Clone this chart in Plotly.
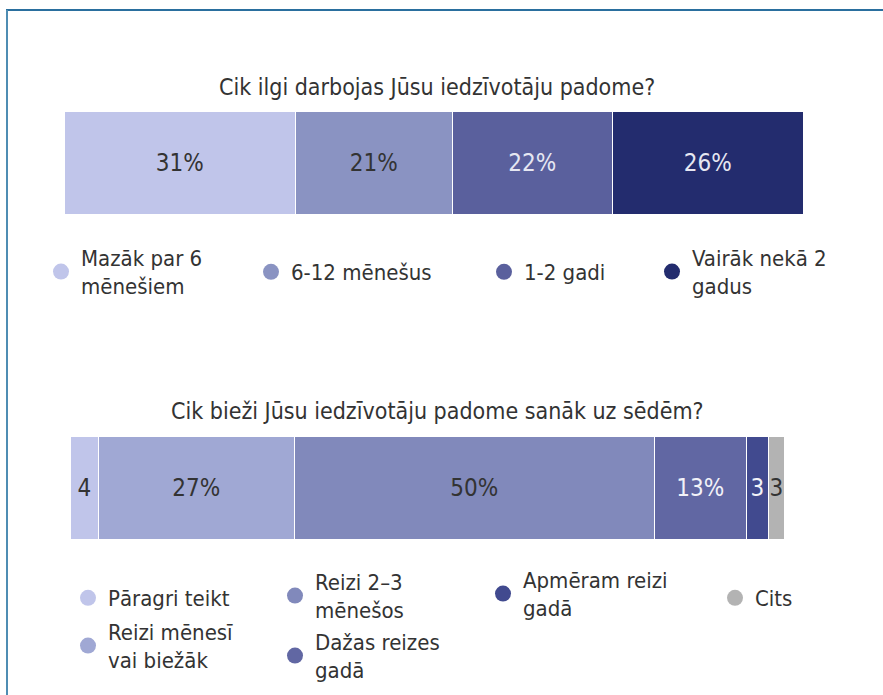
import plotly.graph_objects as go

W, H = 883, 695

# ---- data ----
duration_title = "Cik ilgi darbojas Jūsu iedzīvotāju padome?"
duration_labels = ["Mazāk par 6<br>mēnešiem", "6-12 mēnešus", "1-2 gadi", "Vairāk nekā 2<br>gadus"]
duration_values = [31.3, 21.2, 21.7, 25.8]
duration_text = ["31%", "21%", "22%", "26%"]

frequency_title = "Cik bieži Jūsu iedzīvotāju padome sanāk uz sēdēm?"
frequency_labels = ["Pāragri teikt", "Reizi mēnesī<br>vai biežāk", "Reizi 2–3<br>mēnešos",
                    "Dažas reizes<br>gadā", "Apmēram reizi<br>gadā", "Cits"]
frequency_values = [3.9, 27.5, 50.4, 12.9, 3.0, 2.3]
frequency_text = ["4", "27%", "50%", "13%", "3", "3"]

# ---- styles ----
FONT = "DejaVu Sans Condensed, DejaVu Sans, sans-serif"
TXT = "#333333"
duration_colors = ["#c0c5ea", "#8a93c2", "#5a609d", "#232c6e"]
duration_textcolors = [TXT, TXT, "#e6e7f2", "#e6e7f2"]
frequency_colors = ["#c0c5ea", "#a0a8d4", "#8189bb", "#6167a3", "#414a8f", "#b3b3b3"]
frequency_textcolors = [TXT, TXT, TXT, "#f2f2f8", "#f2f2f8", TXT]

# legend item positions (marker centre x, item centre y) in pixels
duration_leg_pos = [(61, 272), (271, 272), (504, 272), (672, 272)]
frequency_leg_pos = [(88, 598), (88, 646), (295, 596), (295, 656), (503, 594), (735, 598)]

def px(x):
    return x / W

def py(y):
    return (H - y) / H

fig = go.Figure()
legends = {}
li = 1

def add_series(labels, values, texts, colors, tcolors, positions, xa, ya):
    global li
    for lab, v, t, c, tc, (lx, ly) in zip(labels, values, texts, colors, tcolors, positions):
        fig.add_trace(go.Bar(
            y=["a"], x=[v], orientation="h", text=[t], name=lab,
            marker=dict(color=c, line=dict(color="white", width=1.5)),
            textposition="inside", insidetextanchor="middle", textangle=0,
            textfont=dict(color=tc, size=24, family=FONT),
            showlegend=False, xaxis=xa, yaxis=ya, hoverinfo="skip",
        ))
        key = "legend" if li == 1 else f"legend{li}"
        fig.add_trace(go.Scatter(
            x=[None], y=[None], mode="markers", name=lab,
            marker=dict(color=c, size=16, symbol="circle"),
            showlegend=True, legend=key, xaxis=xa, yaxis=ya,
        ))
        legends[key] = dict(
            x=px(lx - 20), y=py(ly), xanchor="left", yanchor="middle",
            orientation="v", bgcolor="rgba(0,0,0,0)", borderwidth=0,
            font=dict(family=FONT, size=22, color=TXT), valign="middle",
            itemclick=False, itemdoubleclick=False,
        )
        li += 1

add_series(duration_labels, duration_values, duration_text, duration_colors,
           duration_textcolors, duration_leg_pos, "x", "y")
add_series(frequency_labels, frequency_values, frequency_text, frequency_colors,
           frequency_textcolors, frequency_leg_pos, "x2", "y2")

fig.update_layout(
    width=W, height=H, autosize=False,
    margin=dict(l=0, r=0, t=0, b=0, pad=0),
    paper_bgcolor="white", plot_bgcolor="white",
    barmode="stack", bargap=0,
    uniformtext=dict(minsize=24, mode="show"),
    font=dict(family=FONT, color=TXT, size=22),
    xaxis=dict(domain=[px(65), px(804)], range=[0, 100], visible=False, fixedrange=True),
    yaxis=dict(domain=[py(215), py(112)], range=[-0.5, 0.5], visible=False, fixedrange=True),
    xaxis2=dict(domain=[px(71), px(785)], range=[0, 100], visible=False, fixedrange=True, anchor="y2"),
    yaxis2=dict(domain=[py(540), py(437)], range=[-0.5, 0.5], visible=False, fixedrange=True, anchor="x2"),
    annotations=[
        dict(text=duration_title, x=px(437), y=py(87), xref="paper", yref="paper",
             showarrow=False, xanchor="center", yanchor="middle",
             font=dict(family=FONT, size=23, color=TXT)),
        dict(text=frequency_title, x=px(437), y=py(411), xref="paper", yref="paper",
             showarrow=False, xanchor="center", yanchor="middle",
             font=dict(family=FONT, size=23, color=TXT)),
    ],
    shapes=[
        dict(type="line", xref="paper", yref="paper", x0=px(6), x1=px(883), y0=py(10), y1=py(10),
             line=dict(color="#2a6f9e", width=2)),
        dict(type="line", xref="paper", yref="paper", x0=px(7), x1=px(7), y0=py(10), y1=py(695),
             line=dict(color="#4f8db3", width=2)),
    ],
    showlegend=True,
    **legends,
)

fig.write_html("out.html", config={"displayModeBar": False},
               post_script="document.body.style.margin='0';document.body.style.overflow='hidden';")
